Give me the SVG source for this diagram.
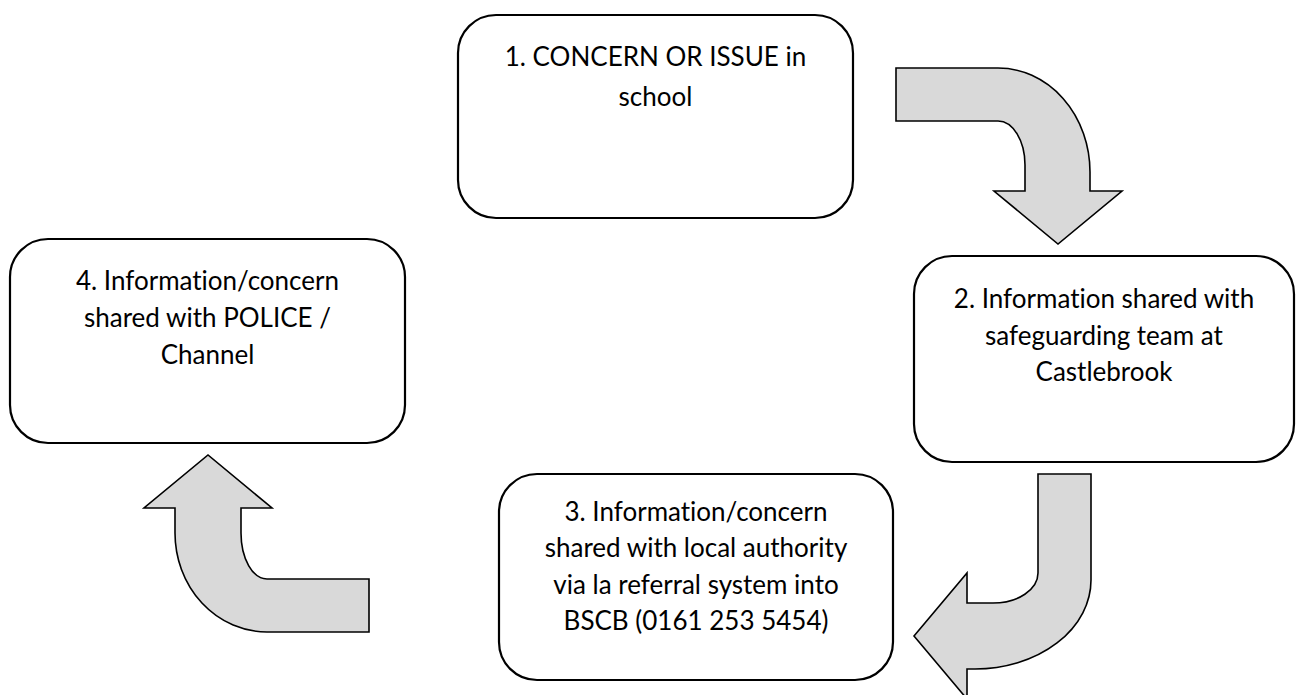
<svg xmlns="http://www.w3.org/2000/svg" width="1297" height="695" viewBox="0 0 1297 695">
<style>
.box{fill:#ffffff;stroke:#000000;stroke-width:2.2}
.arr{fill:#d9d9d9;stroke:#000000;stroke-width:1.6;stroke-linejoin:miter}
.t{font-family:Lato,"Open Sans","Liberation Sans",sans-serif;font-size:26px;fill:#000000;text-anchor:middle;font-variant-ligatures:none;font-feature-settings:"liga" 0}
</style>
<rect width="1297" height="695" fill="#ffffff"/>
<g id="connectors">
<path class="arr" d="M896,68 L998,68 A92,104 0 0 1 1090,172 L1090,191 L1122,191 L1058,244 L994,191 L1025,191 L1025,165 A27,44 0 0 0 998,121 L896,121 Z"/>
<path class="arr" d="M1038,474 L1091,474 L1091,580 A116,89 0 0 1 975,669 L967,669 L967,699 L914,636 L967,573 L967,603 L993,603 A45,30 0 0 0 1038,573 Z"/>
<path class="arr" d="M369,579 L369,632 L267,632 A92,99 0 0 1 175,533 L175,508 L144,508 L208,455 L272,508 L241,508 L241,533 A26,46 0 0 0 267,579 Z"/>
</g>
<g id="node1">
<rect class="box" x="458" y="15" width="395" height="203" rx="38" ry="38"/>
<text class="t" x="655.5" y="66">1. CONCERN OR ISSUE in</text>
<text class="t" x="655.5" y="106">school</text>
</g>
<g id="node2">
<rect class="box" x="914" y="256" width="380" height="206" rx="38" ry="38"/>
<text class="t" x="1104" y="308">2. Information shared with</text>
<text class="t" x="1104" y="345">safeguarding team at</text>
<text class="t" x="1104" y="381">Castlebrook</text>
</g>
<g id="node3">
<rect class="box" x="499" y="474" width="394" height="206" rx="38" ry="38"/>
<text class="t" x="696" y="521">3. Information/concern</text>
<text class="t" x="696" y="557">shared with local authority</text>
<text class="t" x="696" y="594">via la referral system into</text>
<text class="t" x="696" y="630">BSCB (0161 253 5454)</text>
</g>
<g id="node4">
<rect class="box" x="10" y="239" width="395" height="204" rx="38" ry="38"/>
<text class="t" x="207.5" y="290">4. Information/concern</text>
<text class="t" x="207.5" y="327">shared with POLICE /</text>
<text class="t" x="207.5" y="364">Channel</text>
</g>
</svg>
